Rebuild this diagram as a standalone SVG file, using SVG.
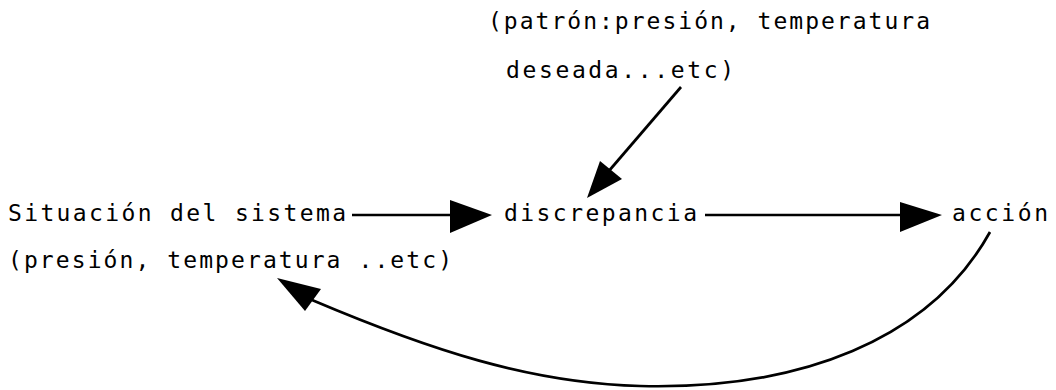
<svg xmlns="http://www.w3.org/2000/svg" width="1056" height="390" viewBox="0 0 1056 390">
  <style>
    .lbl { font-family: "DejaVu Sans Mono", "Liberation Mono", monospace; font-size: 23px; fill: #000; }
    .wire { fill: none; stroke: #000; stroke-width: 2.7; }
    .head { fill: #000; stroke: none; }
  </style>
  <rect width="1056" height="390" fill="#fff"/>

  <g id="patron">
    <text class="lbl" x="488" y="29" textLength="442" lengthAdjust="spacing">(patrón:presión, temperatura</text>
    <text class="lbl" x="506" y="78" textLength="228" lengthAdjust="spacing">deseada...etc)</text>
  </g>

  <g id="situacion">
    <text class="lbl" x="8" y="221" textLength="338" lengthAdjust="spacing">Situación del sistema</text>
    <text class="lbl" x="8" y="268" textLength="444" lengthAdjust="spacing">(presión, temperatura ..etc)</text>
  </g>

  <g id="discrepancia">
    <text class="lbl" x="504" y="221" textLength="193" lengthAdjust="spacing">discrepancia</text>
  </g>

  <g id="accion">
    <text class="lbl" x="952" y="221" textLength="96" lengthAdjust="spacing">acción</text>
  </g>

  <g id="connectors">
    <!-- situación -> discrepancia -->
    <line class="wire" x1="352" y1="215" x2="455" y2="215"/>
    <polygon class="head" points="450,200 492,215 450,233"/>
    <!-- discrepancia -> acción -->
    <line class="wire" x1="705" y1="215" x2="905" y2="215"/>
    <polygon class="head" points="900,202 942,215 900,232"/>
    <!-- patrón -> discrepancia -->
    <line class="wire" x1="681" y1="87" x2="608" y2="172"/>
    <polygon class="head" points="600,161 622,179 587,198"/>
    <!-- acción -> situación (feedback loop) -->
    <path class="wire" d="M 990 232 C 930 340, 800 390, 640 386 C 530 383, 430 350, 312 300"/>
    <polygon class="head" points="305,311 321,289 277,278"/>
  </g>
</svg>
